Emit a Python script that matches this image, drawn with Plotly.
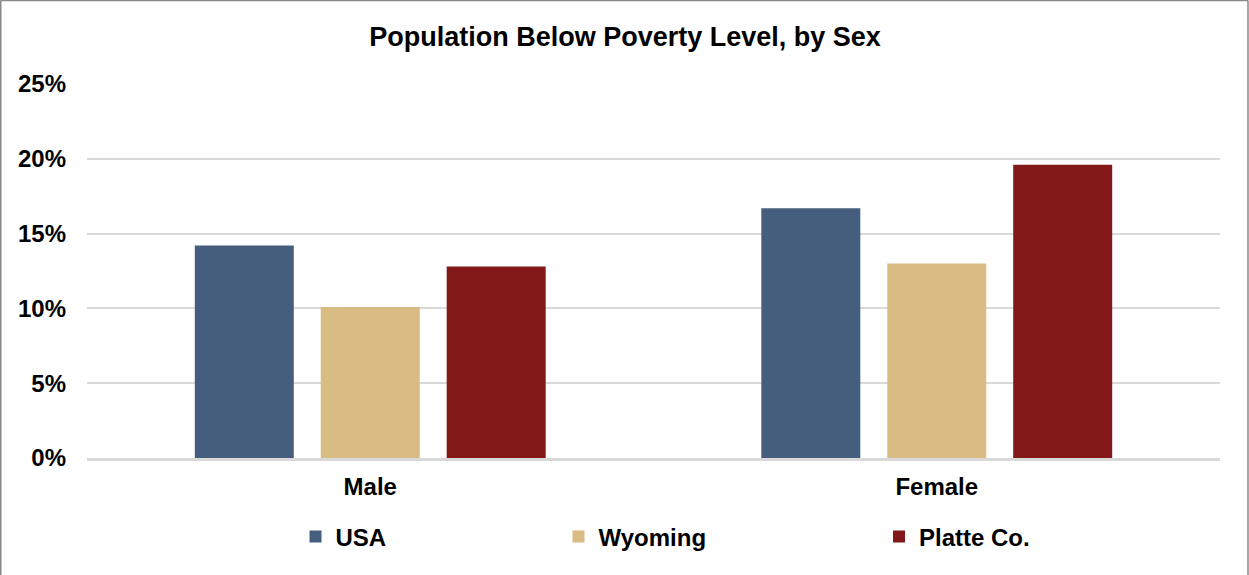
import plotly.graph_objects as go

categories = ["Male", "Female"]
series_names = ["USA", "Wyoming", "Platte Co."]
usa = [14.2, 16.7]
wyoming = [10.1, 13.0]
platte = [12.8, 19.6]
colors = ["#455E7D", "#D9BB84", "#831819"]
y_ticks = [0, 5, 10, 15, 20, 25]
y_tick_labels = ["0%", "5%", "10%", "15%", "20%", "25%"]

W, H = 1249, 575
L, R, T, B = 87, 29, 84, 116.5
pw = W - L - R
ph = H - T - B

FONT = "Liberation Sans, Arial, sans-serif"

fig = go.Figure()
legends = ["legend", "legend2", "legend3"]
for name, vals, col, lg in zip(series_names, [usa, wyoming, platte], colors, legends):
    fig.add_trace(go.Bar(
        x=categories, y=vals, name=name,
        marker=dict(color=col, line=dict(width=0)),
        legend=lg, showlegend=True, hoverinfo="x+y+name",
    ))

def px_to_xp(px):
    return (px - L) / pw

def px_to_yp(py):
    return (H - B - py) / ph

legend_marker_centers = [317.5, 580.5, 901.0]
legend_common = dict(
    orientation="h", xanchor="left", yanchor="middle",
    font=dict(family=FONT, size=24, color="#000000", weight="bold"),
    bgcolor="rgba(0,0,0,0)", borderwidth=0,
)
leg_layout = {}
for lg, cx in zip(legends, legend_marker_centers):
    leg_layout[lg] = dict(legend_common, x=px_to_xp(cx - 22), y=px_to_yp(537.5))

# outer frame (paper coordinates)
x0 = px_to_xp(0.5)
x1 = px_to_xp(1248)
y_top = px_to_yp(0.5)
y_bot = px_to_yp(H + 5)
frame_shapes = [
    dict(type="line", xref="paper", yref="paper", x0=x0, x1=x1, y0=y_top, y1=y_top,
         line=dict(color="#888888", width=1.5)),
    dict(type="line", xref="paper", yref="paper", x0=x0, x1=x0, y0=y_top, y1=y_bot,
         line=dict(color="#888888", width=2)),
    dict(type="line", xref="paper", yref="paper", x0=x1, x1=x1, y0=y_top, y1=y_bot,
         line=dict(color="#888888", width=1.5)),
]

fig.update_layout(
    width=W, height=H,
    showlegend=True,
    margin=dict(l=L, r=R, t=T, b=B, autoexpand=False),
    paper_bgcolor="#FFFFFF", plot_bgcolor="#FFFFFF",
    barmode="group", bargap=0.333, bargroupgap=0.214,
    title=dict(
        text="Population Below Poverty Level, by Sex",
        x=625 / W, xanchor="center", xref="container",
        y=1 - 37 / H, yanchor="middle", yref="container",
        font=dict(family=FONT, size=27, color="#000000", weight="bold"),
    ),
    font=dict(family=FONT, color="#000000"),
    shapes=frame_shapes,
    **leg_layout,
)

fig.update_yaxes(
    range=[0, 25], tickvals=y_ticks, ticktext=y_tick_labels,
    showgrid=True, gridcolor="#D9D9D9", gridwidth=2,
    zeroline=False, showline=False, ticks="",
    ticklabelstandoff=20,
    tickfont=dict(family=FONT, size=24, color="#000000", weight="bold"),
)
fig.update_xaxes(
    showgrid=False, zeroline=False, ticks="",
    showline=True, linecolor="#D9D9D9", linewidth=3,
    ticklabelstandoff=5,
    tickfont=dict(family=FONT, size=24, color="#000000", weight="bold"),
)

fig.write_html("out.html", config={"displayModeBar": False},
               post_script="document.body.style.margin='0';")
